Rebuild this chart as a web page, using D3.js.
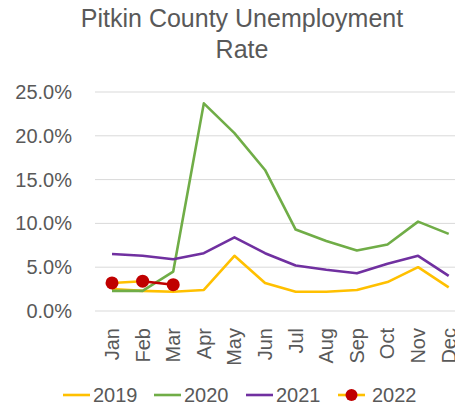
<!doctype html>
<html lang="en">
<head>
<meta charset="utf-8">
<title>Pitkin County Unemployment Rate</title>
<script src="https://d3js.org/d3.v7.min.js"></script>
<style>
  body { margin: 0; background: #fff; }
  text { font-family: "Liberation Sans", Arial, sans-serif; fill: #595959; }
</style>
</head>
<body>
<div id="chart"></div>
<script>
// data (percent)
const months = ["Jan","Feb","Mar","Apr","May","Jun","Jul","Aug","Sep","Oct","Nov","Dec"];
const rate2019 = [2.5, 2.3, 2.2, 2.4, 6.3, 3.2, 2.2, 2.2, 2.4, 3.3, 5.0, 2.7];
const rate2020 = [2.3, 2.3, 4.5, 23.7, 20.3, 16.1, 9.3, 8.0, 6.9, 7.6, 10.2, 8.8];
const rate2021 = [6.5, 6.3, 5.9, 6.6, 8.4, 6.6, 5.2, 4.7, 4.3, 5.4, 6.3, 4.0];
const rate2022 = [3.2, 3.4, 3.0];
const yTicks = [0, 5, 10, 15, 20, 25];

const width = 455, height = 409;
const svg = d3.select("#chart").append("svg")
    .attr("width", width)
    .attr("height", height);

// title
svg.append("text")
    .attr("x", 242).attr("y", 27)
    .attr("text-anchor", "middle")
    .attr("font-size", 25)
    .text("Pitkin County Unemployment");
svg.append("text")
    .attr("x", 242).attr("y", 58)
    .attr("text-anchor", "middle")
    .attr("font-size", 25)
    .text("Rate");

const x = d3.scaleBand(months, [96.7, 464]);
const y = d3.scaleLinear([0, 25], [311, 92]);
const cx = m => x(m) + x.bandwidth() / 2;

// gridlines + y labels
svg.append("g")
  .selectAll("line")
  .data(yTicks)
  .join("line")
    .attr("x1", 95).attr("x2", width)
    .attr("y1", d => y(d)).attr("y2", d => y(d))
    .attr("stroke", "#d9d9d9")
    .attr("stroke-width", 1);

svg.append("g")
    .attr("font-size", 20)
    .attr("text-anchor", "end")
  .selectAll("text")
  .data(yTicks)
  .join("text")
    .attr("x", 72)
    .attr("y", d => y(d))
    .attr("dy", "0.35em")
    .text(d => d.toFixed(1) + "%");

// month labels, rotated
svg.append("g")
    .attr("font-size", 20)
    .attr("text-anchor", "end")
  .selectAll("text")
  .data(months)
  .join("text")
    .attr("transform", m => `translate(${cx(m)},328) rotate(-90)`)
    .attr("dy", "0.35em")
    .text(m => m);

const line = d3.line()
    .x((d, i) => cx(months[i]))
    .y(d => y(d));

const series = [
  {values: rate2019, color: "#FFC000"},
  {values: rate2020, color: "#70AD47"},
  {values: rate2021, color: "#7030A0"}
];

series.forEach(s => {
  svg.append("path")
      .attr("d", line(s.values))
      .attr("fill", "none")
      .attr("stroke", s.color)
      .attr("stroke-width", 2.6)
      .attr("stroke-linejoin", "round");
});

// 2022: orange first segment, red second, red markers
const segColors = ["#FFC000", "#C00000"];
d3.pairs(d3.range(rate2022.length)).forEach(([a, b], k) => {
  svg.append("line")
      .attr("x1", cx(months[a])).attr("y1", y(rate2022[a]))
      .attr("x2", cx(months[b])).attr("y2", y(rate2022[b]))
      .attr("stroke", segColors[k])
      .attr("stroke-width", 2.6);
});
svg.append("g")
  .selectAll("circle")
  .data(rate2022)
  .join("circle")
    .attr("cx", (d, i) => cx(months[i]))
    .attr("cy", d => y(d))
    .attr("r", 6.5)
    .attr("fill", "#C00000");

// legend
const legend = [
  {name: "2019", color: "#FFC000", x: 63},
  {name: "2020", color: "#70AD47", x: 154},
  {name: "2021", color: "#7030A0", x: 246},
  {name: "2022", color: "#FFC000", x: 338, marker: true}
];
const lg = svg.append("g").attr("font-size", 20);
legend.forEach(l => {
  lg.append("line")
      .attr("x1", l.x).attr("x2", l.x + 27)
      .attr("y1", 395).attr("y2", 395)
      .attr("stroke", l.color)
      .attr("stroke-width", 2.6);
  if (l.marker) lg.append("circle")
      .attr("cx", l.x + 13.5).attr("cy", 395)
      .attr("r", 6)
      .attr("fill", "#C00000");
  lg.append("text")
      .attr("x", l.x + (l.marker ? 34 : 30))
      .attr("y", 395)
      .attr("dy", "0.35em")
      .text(l.name);
});
</script>
</body>
</html>
